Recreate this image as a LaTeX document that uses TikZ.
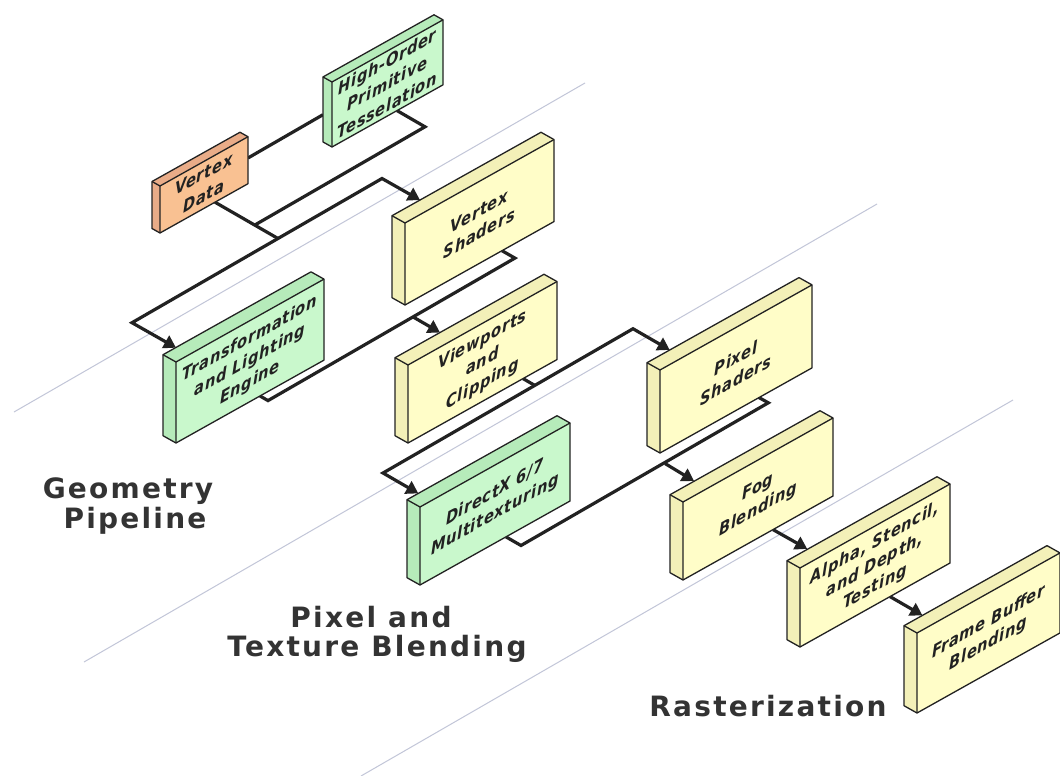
\documentclass[tikz,border=0pt]{standalone}
\usepackage{fontspec}
\setmainfont{DejaVu Sans}
\usetikzlibrary{arrows.meta}
\definecolor{ylw}{HTML}{FFFDC8}
\definecolor{ylwside}{HTML}{F3F0B8}
\definecolor{grn}{HTML}{C9F8CC}
\definecolor{grnside}{HTML}{B6EBBA}
\definecolor{org}{HTML}{F9C192}
\definecolor{orgside}{HTML}{E9AC88}
\definecolor{ink}{HTML}{222222}
\definecolor{guidecol}{HTML}{C2C6D8}
\definecolor{lbl}{HTML}{333333}
\def\isl{0.56}
\newcommand{\isobox}[9]{%
  \pgfmathsetmacro\ixa{#2}\pgfmathsetmacro\iya{#3}%
  \pgfmathsetmacro\ixb{#2+#4}\pgfmathsetmacro\iyb{#3-\isl*#4}%
  \pgfmathsetmacro\iyc{\iyb-#5}\pgfmathsetmacro\iyd{#3-#5}%
  \pgfmathsetmacro\idx{-#6}\pgfmathsetmacro\idy{-\isl*#6}%
  \coordinate (#1-bl) at (\ixa,\iya);
  \coordinate (#1-br) at (\ixb,\iyb);
  \coordinate (#1-tr) at (\ixb,\iyc);
  \coordinate (#1-tl) at (\ixa,\iyd);
  \coordinate (#1-bbl) at (\ixa+\idx,\iya+\idy);
  \coordinate (#1-btl) at (\ixa+\idx,\iyd+\idy);
  \coordinate (#1-btr) at (\ixb+\idx,\iyc+\idy);
  \fill[#8] (#1-bbl) -- (#1-btl) -- (#1-btr) -- (#1-tr) -- (#1-tl) -- (#1-bl) -- cycle;
  \fill[#7] (#1-bl) -- (#1-br) -- (#1-tr) -- (#1-tl) -- cycle;
  \draw[boxline] (#1-bbl) -- (#1-btl) -- (#1-btr) -- (#1-tr) -- (#1-br) -- (#1-bl) -- cycle;
  \draw[boxline] (#1-bl) -- (#1-tl) -- (#1-tr) (#1-tl) -- (#1-btl);
  \pgfmathsetmacro\ixm{#2+#4/2}\pgfmathsetmacro\iym{#3-\isl*#4/2-#5/2}%
  \begin{scope}[shift={(\ixm,\iym)}, yslant=\isl, xscale=0.866]
    \node[boxtext] (#1) at (0,0) {#9};
  \end{scope}
}
\tikzset{
  boxline/.style={draw=ink, line width=1.3pt, line join=round},
  boxtext/.style={transform shape, align=center, inner sep=0pt, text=ink,
    font=\fontsize{17}{22}\selectfont\bfseries\itshape\addfontfeature{LetterSpace=4}},
  conn/.style={draw=ink, line width=3.2pt, line join=miter},
  tip/.tip={Triangle[length=12pt,width=14pt]},
  guideline/.style={draw=guidecol, line width=1pt},
  lbltext/.style={text=lbl, inner sep=0pt, anchor=base,
    font=\fontsize{28}{32}\selectfont\bfseries\addfontfeature{LetterSpace=8}}
}
\begin{document}
\begin{tikzpicture}[x=1pt,y=-1pt]
\fill[white] (0,0) rectangle (1060,776);
\useasboundingbox (0,0) rectangle (1060,776);
% guide lines
\draw[guideline] (14,412) -- (585,83);
\draw[guideline] (84,662) -- (877,204);
\draw[guideline] (361,776) -- (1013,400);
% connector points
\coordinate (vdr) at (248,158);
\coordinate (hol) at (323,114.7);
\coordinate (hoo) at (397,110.6);
\coordinate (cho) at (425,126.8);
\coordinate (j0) at (254.7,225.1);
\coordinate (vdo) at (215,202.2);
\coordinate (j1) at (278,238.5);
\coordinate (k0) at (132,322.7);
\coordinate (tlin) at (176,347.7);
\coordinate (kvs) at (382,178.5);
\coordinate (vsin) at (420,200);
\coordinate (tlo) at (260,396);
\coordinate (ctl) at (268,400.6);
\coordinate (cvs) at (514.9,258.1);
\coordinate (vso) at (502,250.7);
\coordinate (j2) at (413,316.9);
\coordinate (vpin) at (440,332.5);
\coordinate (vpo) at (523,378.6);
\coordinate (j3) at (534.8,385.4);
\coordinate (k1) at (383,473);
\coordinate (k2) at (633,328.75);
\coordinate (dxin) at (418.3,493.4);
\coordinate (psin) at (669.7,349.9);
\coordinate (dxo) at (506,536.9);
\coordinate (cdx) at (521,545.5);
\coordinate (cps) at (768.3,402.8);
\coordinate (pso) at (758,397);
\coordinate (j4) at (665,463.5);
\coordinate (fogin) at (694,481);
\coordinate (fogo) at (773,529.6);
\coordinate (alin) at (807.2,548.9);
\coordinate (alo) at (890,596.6);
\coordinate (fbin) at (922.4,615.3);
% connectors
\draw[conn] (vdr) -- (hol);
\draw[conn] (hoo) -- (cho) -- (j0);
\draw[conn] (vdo) -- (j1);
\draw[conn,tip-tip] (tlin) -- (k0) -- (kvs) -- (vsin);
\draw[conn] (tlo) -- (ctl) -- (cvs) -- (vso);
\draw[conn,-tip] (j2) -- (vpin);
\draw[conn] (vpo) -- (j3);
\draw[conn,tip-tip] (dxin) -- (k1) -- (k2) -- (psin);
\draw[conn] (dxo) -- (cdx) -- (cps) -- (pso);
\draw[conn,-tip] (j4) -- (fogin);
\draw[conn,-tip] (fogo) -- (alin);
\draw[conn,-tip] (alo) -- (fbin);
% boxes
\isobox{vd}{160}{233}{88}{47}{8}{org}{orgside}{Vertex\\Data}
\isobox{ho}{332}{147}{111}{65}{9}{grn}{grnside}{High-Order\\Primitive\\Tesselation}
\isobox{vs}{405}{305}{149}{82}{13}{ylw}{ylwside}{Vertex\\Shaders}
\isobox{tl}{176}{443}{148}{81}{13}{grn}{grnside}{Transformation\\and Lighting\\Engine}
\isobox{vp}{408}{443}{149}{78}{13}{ylw}{ylwside}{Viewports\\and\\Clipping}
\isobox{ps}{660}{453}{152}{83}{13}{ylw}{ylwside}{Pixel\\Shaders}
\isobox{dx}{420}{585}{150}{78}{13}{grn}{grnside}{DirectX 6/7\\Multitexturing}
\isobox{fog}{683}{580}{150}{78}{13}{ylw}{ylwside}{Fog\\Blending}
\isobox{al}{800}{647}{150}{79}{13}{ylw}{ylwside}{Alpha, Stencil,\\and Depth,\\Testing}
\isobox{fb}{917}{713}{143}{80}{13}{ylw}{ylwside}{Frame Buffer\\Blending}
% labels
\node[lbltext] (geo1) at (128,498) {Geometry};
\node[lbltext] (geo2) at (135,528) {Pipeline};
\node[lbltext] (pix1) at (371,627) {Pixel and};
\node[lbltext] (pix2) at (377,656) {Texture Blending};
\node[lbltext] (ras) at (768,716) {Rasterization};
\end{tikzpicture}
\end{document}
